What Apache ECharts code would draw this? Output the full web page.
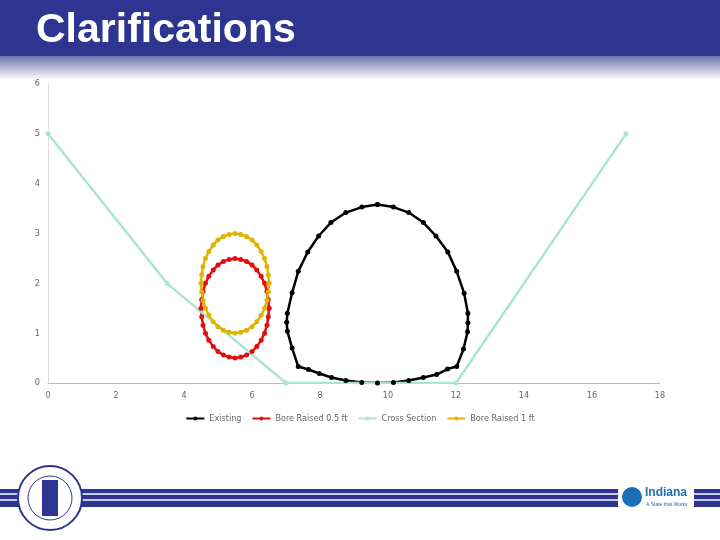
<!DOCTYPE html>
<html><head><meta charset="utf-8">
<script src="https://cdn.jsdelivr.net/npm/echarts@6/dist/echarts.min.js"></script>
<style>html,body{margin:0;padding:0;background:#fff}#c{width:720px;height:540px}</style>
</head><body><div id="c"></div>
<script>
const existingX=[9.69,10.16,10.61,11.04,11.41,11.76,12.02,12.24,12.35,12.35,12.34,12.22,12.02,11.75,11.43,11.04,10.61,10.16,9.69,9.23,8.76,8.34,7.98,7.66,7.36,7.18,7.04,7.02,7.04,7.18,7.36,7.64,7.96,8.32,8.76,9.23,9.69];
const existingY=[3.58,3.53,3.42,3.22,2.95,2.63,2.24,1.80,1.40,1.21,1.03,0.68,0.33,0.28,0.17,0.11,0.05,0.01,0.0,0.01,0.05,0.11,0.19,0.27,0.33,0.70,1.04,1.22,1.40,1.81,2.24,2.63,2.95,3.22,3.42,3.53,3.58];
const boreX=[6.5,6.48,6.44,6.37,6.27,6.14,6.0,5.84,5.67,5.5,5.33,5.16,5.0,4.86,4.73,4.63,4.56,4.52,4.5,4.52,4.56,4.63,4.73,4.86,5.0,5.16,5.33,5.5,5.67,5.84,6.0,6.14,6.27,6.37,6.44,6.48,6.5];
const bore05Y=[1.5,1.67,1.84,2.0,2.14,2.27,2.37,2.44,2.48,2.5,2.48,2.44,2.37,2.27,2.14,2.0,1.84,1.67,1.5,1.33,1.16,1.0,0.86,0.73,0.63,0.56,0.52,0.5,0.52,0.56,0.63,0.73,0.86,1.0,1.16,1.33,1.5];
const bore1Y=[2.0,2.17,2.34,2.5,2.64,2.77,2.87,2.94,2.98,3.0,2.98,2.94,2.87,2.77,2.64,2.5,2.34,2.17,2.0,1.83,1.66,1.5,1.36,1.23,1.13,1.06,1.02,1.0,1.02,1.06,1.13,1.23,1.36,1.5,1.66,1.83,2.0];
const crossX=[0,3.5,7,12,17];
const crossY=[5,2,0,0,5];
const pair=(xs,ys)=>xs.map((x,i)=>[x,ys[i]]);
const ch=echarts.init(document.getElementById('c'));
const lab={color:'#666',fontSize:9,fontFamily:'DejaVu Sans Condensed'};
function s(name,data,color,size){return {name,type:'line',data,symbol:'circle',symbolSize:size,lineStyle:{color,width:2.5},itemStyle:{color},animation:false};}
ch.setOption({
 animation:false,
 graphic:[
  {type:'rect',shape:{x:0,y:0,width:720,height:56},style:{fill:'#2e3590'}},
  {type:'rect',shape:{x:0,y:56,width:720,height:24},style:{fill:new echarts.graphic.LinearGradient(0,0,0,1,[{offset:0,color:'#6e73ad'},{offset:1,color:'#ffffff'}])}},
  {type:'text',left:36,top:10,style:{text:'Clarifications',fill:'#fff',font:'bold 41px "Liberation Sans Narrow", "Liberation Sans"',}},
  {type:'rect',shape:{x:0,y:489,width:720,height:18},style:{fill:'#2e3590'}},
  {type:'rect',shape:{x:0,y:493,width:720,height:2},style:{fill:'#c8cbe6'}},
  {type:'rect',shape:{x:0,y:499,width:720,height:2},style:{fill:'#c8cbe6'}},
  {type:'circle',shape:{cx:50,cy:498,r:32},style:{fill:'#fff',stroke:'#2e3590',lineWidth:2}},
  {type:'circle',shape:{cx:50,cy:498,r:22},style:{fill:'#fff',stroke:'#2e3590',lineWidth:1}},
  {type:'rect',shape:{x:42,y:480,width:16,height:36},style:{fill:'#2e3590'}},
  {type:'rect',shape:{x:618,y:482,width:76,height:30},style:{fill:'#fff'}},
  {type:'circle',shape:{cx:632,cy:497,r:10},style:{fill:'#1a6fb5'}},
  {type:'text',left:645,top:487,style:{text:'Indiana',fill:'#1a6fb5',font:'bold 12px "Liberation Sans"'}},
  {type:'text',left:646,top:502,style:{text:'A State that Works',fill:'#1a6fb5',font:'5px "Liberation Sans"'}}
 ],
 grid:{left:48,right:60,top:84,bottom:157},
 legend:{top:409,left:'center',itemWidth:18,itemHeight:5,itemGap:10,textStyle:{color:'#666',fontSize:9,fontFamily:'DejaVu Sans Condensed'},
  data:['Existing','Bore Raised 0.5 ft','Cross Section','Bore Raised 1 ft']},
 xAxis:{type:'value',min:0,max:18,interval:2,axisLine:{lineStyle:{color:'#bbb'}},axisTick:{show:false},splitLine:{show:false},axisLabel:Object.assign({margin:8},lab)},
 yAxis:{type:'value',min:0,max:6,interval:1,axisLine:{show:true,lineStyle:{color:'#ddd'}},axisTick:{show:false},splitLine:{show:false},axisLabel:Object.assign({margin:8},lab)},
 series:[
  s('Existing',pair(existingX,existingY),'#000000',5),
  s('Bore Raised 0.5 ft',pair(boreX,bore05Y),'#e01010',5),
  s('Cross Section',pair(crossX,crossY),'#a8e6d2',5),
  s('Bore Raised 1 ft',pair(boreX,bore1Y),'#e0b400',5)
 ]
});
</script></body></html>
